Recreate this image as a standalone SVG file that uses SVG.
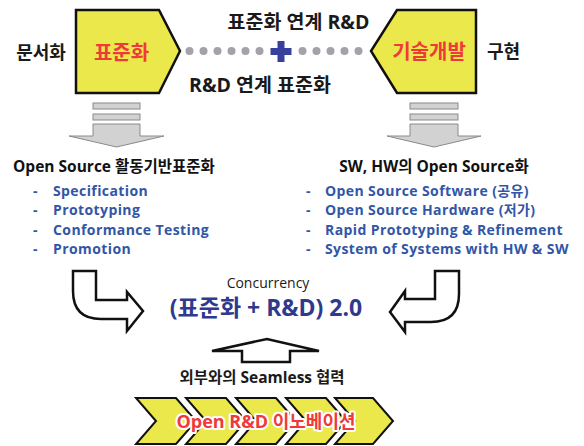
<svg xmlns="http://www.w3.org/2000/svg" width="584" height="446" viewBox="0 0 584 446">
  <style>
    text { font-family: "Open Sans", "Noto Sans CJK KR", sans-serif; }
    .ko { font-family: "Noto Sans CJK KR", "Open Sans", sans-serif; }
    .pent { fill: #EAE84B; stroke: #111; stroke-width: 2.5; stroke-linejoin: miter; }
    .red { fill: #F03A3A; font-weight: bold; font-size: 20px; }
    .lbl { fill: #1a1a1a; font-weight: bold; font-size: 18px; }
    .mix { fill: #1a1a1a; font-weight: bold; font-size: 19.5px; }
    .dot { fill: #A2A2A8; }
    .gray { fill: #D2D2D2; stroke: #8A8A8A; stroke-width: 1; }
    .head { fill: #111; font-weight: bold; font-size: 15.5px; }
    .item { fill: #3256A6; font-weight: bold; font-size: 14px; letter-spacing: 0.4px; }
    .outline { fill: #fff; stroke: #111; stroke-width: 2.5; stroke-linejoin: miter; }
    .chev { fill: #EAE84B; stroke: #111; stroke-width: 2; stroke-linejoin: miter; }
    .chevgap { fill: none; stroke: #fff; stroke-width: 7; stroke-linejoin: miter; }
  </style>

  <!-- standardisation pentagon -->
  <g id="node-standard">
    <polygon class="pent" points="76,10 159,10 180,51 159,93 76,93"/>
    <text class="red ko" x="121.5" y="60" text-anchor="middle">표준화</text>
  </g>

  <!-- technology development pentagon -->
  <g id="node-rnd">
    <polygon class="pent" points="397,10 476,10 476,93 397,93 371,51"/>
    <text class="red ko" x="429" y="59" text-anchor="middle">기술개발</text>
  </g>

  <g id="side-labels">
    <text class="lbl ko" x="41" y="59" text-anchor="middle">문서화</text>
    <text class="lbl ko" x="503.5" y="58" text-anchor="middle">구현</text>
    <text class="mix" x="298.5" y="29" text-anchor="middle">표준화 연계 R&amp;D</text>
    <text class="mix" x="260" y="92" text-anchor="middle">R&amp;D 연계 표준화</text>
  </g>

  <g id="connectors">
    <!-- dotted link with plus -->
    <g id="dotted-link">
      <circle class="dot" cx="189.5" cy="51" r="4"/>
      <circle class="dot" cx="203.5" cy="51" r="4"/>
      <circle class="dot" cx="217.5" cy="51" r="4"/>
      <circle class="dot" cx="231.5" cy="51" r="4"/>
      <circle class="dot" cx="245.5" cy="51" r="4"/>
      <circle class="dot" cx="259.5" cy="51" r="4"/>
      <circle class="dot" cx="302.5" cy="51" r="4"/>
      <circle class="dot" cx="316.5" cy="51" r="4"/>
      <circle class="dot" cx="330.5" cy="51" r="4"/>
      <circle class="dot" cx="344.5" cy="51" r="4"/>
      <circle class="dot" cx="358.5" cy="51" r="4"/>
      <path d="M277.5,41 h7 v7 h7 v7 h-7 v7 h-7 v-7 h-7 v-7 h7 z" fill="#37409A"/>
    </g>

    <!-- downward gray arrows -->
    <g id="down-left">
      <rect class="gray" x="93" y="103" width="47" height="6"/>
      <rect class="gray" x="93" y="114" width="47" height="6"/>
      <polygon class="gray" points="93,124 140,124 140,136 164,136 116.5,147 69,136 93,136"/>
    </g>
    <g id="down-right">
      <rect class="gray" x="410" y="103" width="48" height="6"/>
      <rect class="gray" x="410" y="114" width="48" height="6"/>
      <polygon class="gray" points="410,124 458,124 458,136 481,136 434,147 387,136 410,136"/>
    </g>

    <!-- bent arrows into the centre -->
    <path id="bend-left" class="outline" d="M73,271 H96 V300 H127 V292 L143,311 L127,331 V319 H101 Q73,319 73,291 Z"/>
    <path id="bend-right" class="outline" d="M459,271 H435 V299 H405 V291 L390,312 L405,332 V322 H431 Q459,322 459,294 Z"/>

    <!-- upward arrow -->
    <polygon id="up-arrow" class="outline" stroke-width="2" points="242,362 290,362 290,351 319,351 267,339 212,351 242,351"/>
  </g>

  <g id="left-list">
    <text class="head" x="13" y="172">Open Source 활동기반표준화</text>
    <text class="item" x="33" y="196">-</text>
    <text class="item" x="53" y="196">Specification</text>
    <text class="item" x="33" y="215.3">-</text>
    <text class="item" x="53" y="215.3">Prototyping</text>
    <text class="item" x="33" y="234.6">-</text>
    <text class="item" x="53" y="234.6">Conformance Testing</text>
    <text class="item" x="33" y="254">-</text>
    <text class="item" x="53" y="254">Promotion</text>
  </g>

  <g id="right-list">
    <text class="head" x="434" y="172" text-anchor="middle">SW, HW의 Open Source화</text>
    <text class="item" x="306" y="196">-</text>
    <text class="item" x="325" y="196">Open Source Software (공유)</text>
    <text class="item" x="306" y="215.3">-</text>
    <text class="item" x="325" y="215.3">Open Source Hardware (저가)</text>
    <text class="item" x="306" y="234.6">-</text>
    <text class="item" x="325" y="234.6">Rapid Prototyping &amp; Refinement</text>
    <text class="item" x="306" y="254">-</text>
    <text class="item" x="325" y="254">System of Systems with HW &amp; SW</text>
  </g>

  <g id="node-center">
    <text x="268" y="288" text-anchor="middle" font-size="14" fill="#1a1a1a">Concurrency</text>
    <text x="266" y="316" text-anchor="middle" font-size="23" font-weight="bold" fill="#2F3A8E">(표준화 + R&amp;D) 2.0</text>
  </g>

  <g id="node-seamless">
    <text x="262" y="383" text-anchor="middle" font-size="15.5" font-weight="bold" fill="#1a1a1a">외부와의 Seamless 협력</text>
  </g>

  <!-- chevron row -->
  <g id="node-innovation">
    <g id="chevrons">
      <polygon class="chevgap" points="136,398 176,398 196,421 176,444 136,444 156,421"/>
      <polygon class="chev" points="136,398 176,398 196,421 176,444 136,444 156,421"/>
      <polygon class="chevgap" points="186,398 226,398 246,421 226,444 186,444 206,421"/>
      <polygon class="chev" points="186,398 226,398 246,421 226,444 186,444 206,421"/>
      <polygon class="chevgap" points="236,398 276,398 296,421 276,444 236,444 256,421"/>
      <polygon class="chev" points="236,398 276,398 296,421 276,444 236,444 256,421"/>
      <polygon class="chevgap" points="286,398 326,398 346,421 326,444 286,444 306,421"/>
      <polygon class="chev" points="286,398 326,398 346,421 326,444 286,444 306,421"/>
      <polygon class="chevgap" points="335,398 373,398 393,421 373,444 335,444 355,421"/>
      <polygon class="chev" points="335,398 373,398 393,421 373,444 335,444 355,421"/>
    </g>
    <text x="266" y="428" text-anchor="middle" font-size="18" font-weight="bold" fill="#F03A3A" stroke="#fff" stroke-width="4" stroke-linejoin="round" paint-order="stroke">Open R&amp;D 이노베이션</text>
  </g>
</svg>
